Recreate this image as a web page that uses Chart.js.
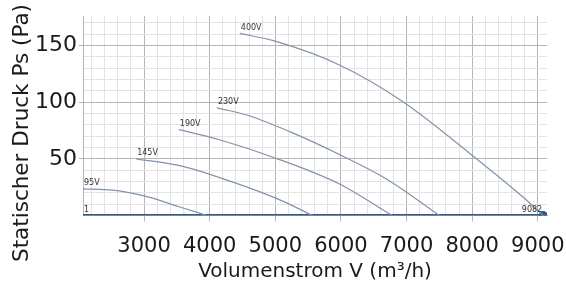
<!DOCTYPE html>
<html>
<head>
<meta charset="utf-8">
<script src="https://cdn.jsdelivr.net/npm/chart.js@4.4.0/dist/chart.umd.min.js"></script>
<style>
  html, body { margin: 0; padding: 0; background: #fff; }
  #wrap { width: 566px; height: 287px; position: relative; }
</style>
</head>
<body>
<div id="wrap"><canvas id="myChart"></canvas></div>
<script>
// fan curves: volume flow (m³/h) and static pressure (Pa)
var curveNames = ['95V', '145V', '190V', '230V', '400V'];
var flow95 = [2070, 2530, 3045, 3545, 3960];
var pres95 = [23.5, 22.4, 16.6, 7.5, 0];
var flow145 = [2880, 3545, 4300, 5060, 5570];
var pres145 = [50, 44, 30.5, 14, 0];
var flow190 = [3530, 4150, 4985, 5970, 6780];
var pres190 = [75.7, 66.8, 51, 28, 0];
var flow230 = [4110, 4600, 5300, 5970, 6700, 7500];
var pres230 = [95, 88, 72, 54, 32, 0];
var flow400 = [4460, 4985, 5970, 6955, 8045, 8800, 9082];
var pres400 = [160.6, 154, 133, 100, 51, 15, 0];
var baseFlow = [2070, 9082];
var basePres = [0, 0];
var baseNames = ['1', '9082'];

var xTickLabels = [3000, 4000, 5000, 6000, 7000, 8000, 9000];
var yTickLabels = [50, 100, 150];
var yTitle = 'Statischer Druck Ps (Pa)';
var xTitle = 'Volumenstrom V (m³/h)';

var fontFam = "'DejaVu Sans', Verdana, sans-serif";

function pts(xs, ys) {
    return xs.map(function(x, i) { return {x: x, y: ys[i]}; });
}

var curveFlows = [flow95, flow145, flow190, flow230, flow400];
var curvePres = [pres95, pres145, pres190, pres230, pres400];

var datasets = curveNames.map(function(name, i) {
    return {
        label: name,
        data: pts(curveFlows[i], curvePres[i]),
        showLine: true,
        borderColor: '#8193ab',
        borderWidth: 1.2,
        pointRadius: 0,
        cubicInterpolationMode: 'monotone',
        startLabel: name
    };
});
datasets.push({
    label: baseNames[0],
    data: pts(baseFlow, basePres),
    showLine: true,
    borderColor: '#2d5b8c',
    backgroundColor: '#2d5b8c',
    borderWidth: 3,
    pointRadius: [0, 3],
    startLabel: baseNames[0],
    endLabel: baseNames[1]
});

var curveLabels = {
    id: 'curveLabels',
    afterDatasetsDraw: function(chart) {
        var ctx = chart.ctx;
        var xs = chart.scales.x, ys = chart.scales.y;
        ctx.save();
        ctx.font = "8px " + fontFam;
        ctx.fillStyle = '#333';
        ctx.textBaseline = 'bottom';
        chart.data.datasets.forEach(function(ds) {
            var first = ds.data[0], last = ds.data[ds.data.length - 1];
            if (ds.startLabel) {
                ctx.textAlign = 'left';
                ctx.fillText(ds.startLabel, xs.getPixelForValue(first.x) + 1, ys.getPixelForValue(first.y) - 2);
            }
            if (ds.endLabel) {
                ctx.textAlign = 'right';
                ctx.fillText(ds.endLabel, xs.getPixelForValue(last.x) - 1, ys.getPixelForValue(last.y) - 2);
            }
        });
        // y axis title, centred on the canvas height
        ctx.translate(22, 133);
        ctx.rotate(-Math.PI / 2);
        ctx.font = "21.5px " + fontFam;
        ctx.fillStyle = '#1a1a1a';
        ctx.textAlign = 'center';
        ctx.textBaseline = 'middle';
        ctx.fillText(yTitle, 0, 0);
        ctx.restore();
    }
};

function gridTicks(min, max, step) {
    var out = [];
    for (var v = Math.ceil(min / step) * step; v <= max; v += step) out.push({value: v});
    return out;
}

var ctx = document.getElementById('myChart').getContext('2d');
var myChart = new Chart(ctx, {
    type: 'scatter',
    data: { datasets: datasets },
    options: {
        responsive: true,
        maintainAspectRatio: false,
        animation: false,
        layout: { padding: { top: 16, right: 19, left: 0, bottom: 0 } },
        plugins: { legend: { display: false }, tooltip: { enabled: false } },
        scales: {
            x: {
                type: 'linear',
                min: 2070,
                max: 9140,
                afterBuildTicks: function(scale) { scale.ticks = gridTicks(2070, 9140, 200); },
                afterFit: function(scale) { scale.height = 71.5; scale.paddingLeft = 0; scale.paddingRight = 0; },
                ticks: {
                    autoSkip: false,
                    maxRotation: 0,
                    padding: 12,
                    color: '#1a1a1a',
                    font: { family: fontFam, size: 21 },
                    callback: function(v) { return xTickLabels.indexOf(v) >= 0 ? String(v) : ''; }
                },
                grid: {
                    color: function(c) { return c.tick && c.tick.value % 1000 === 0 ? '#b5b5b5' : '#e3e3e3'; },
                    tickColor: function(c) { return c.tick && c.tick.value % 1000 === 0 ? '#b5b5b5' : 'rgba(0,0,0,0)'; },
                    tickLength: 6,
                    lineWidth: 1
                },
                border: { color: '#b5b5b5' },
                title: {
                    display: true,
                    text: xTitle,
                    color: '#1a1a1a',
                    font: { family: fontFam, size: 20 },
                    padding: { top: 0, bottom: 3 }
                }
            },
            y: {
                type: 'linear',
                min: 0,
                max: 176,
                afterBuildTicks: function(scale) { scale.ticks = gridTicks(0, 176, 10); },
                afterFit: function(scale) { scale.width = 83; },
                ticks: {
                    autoSkip: false,
                    padding: 2,
                    color: '#1a1a1a',
                    font: { family: fontFam, size: 22 },
                    callback: function(v) { return yTickLabels.indexOf(v) >= 0 ? String(v) : ''; }
                },
                grid: {
                    color: function(c) { return c.tick && c.tick.value % 50 === 0 ? '#b5b5b5' : '#e3e3e3'; },
                    tickColor: function(c) { return c.tick && c.tick.value % 50 === 0 && c.tick.value > 0 ? '#b5b5b5' : 'rgba(0,0,0,0)'; },
                    tickLength: 4,
                    lineWidth: 1
                },
                border: { color: '#b5b5b5' }
            }
        }
    },
    plugins: [curveLabels]
});
</script>
</body>
</html>
